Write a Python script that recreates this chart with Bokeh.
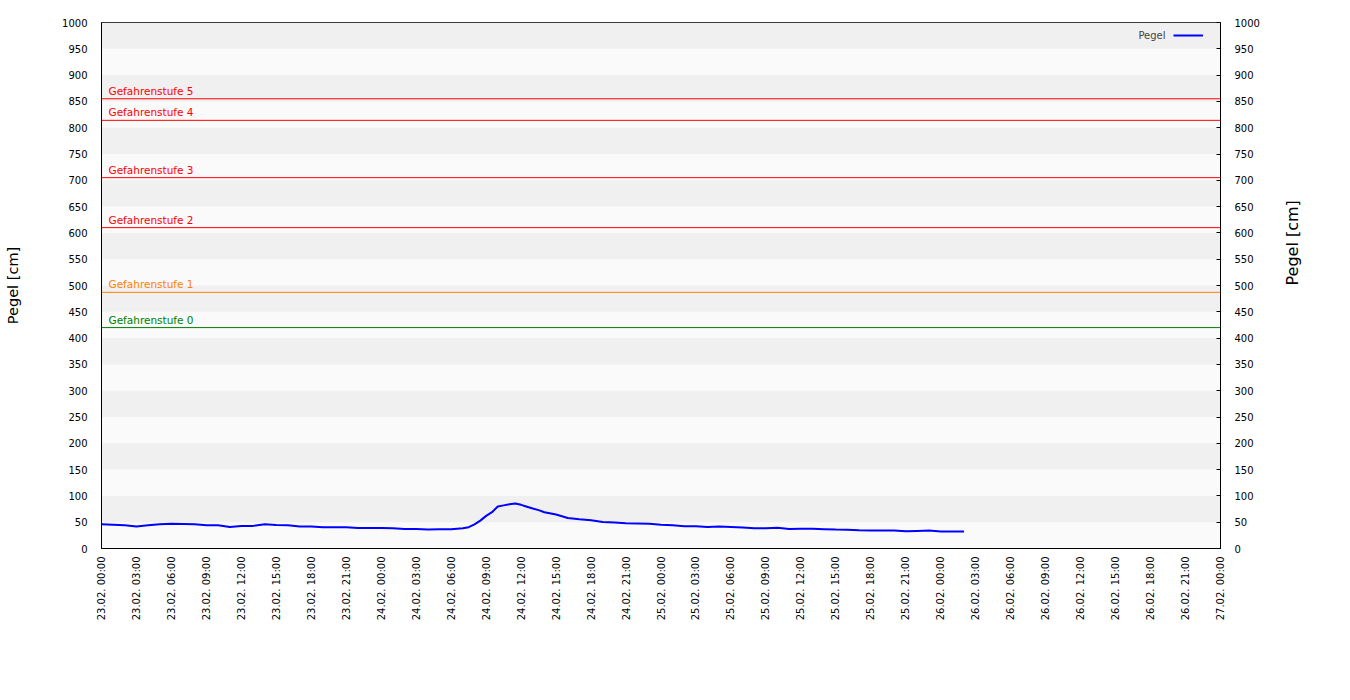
import math
from datetime import datetime, timedelta
from bokeh.plotting import figure
from bokeh.models import (LinearAxis, Range1d, FixedTicker, DatetimeTickFormatter,
                          Span, Label, BoxAnnotation, Legend, LegendItem)
from bokeh.embed import file_html
from bokeh.resources import INLINE

# ---- data ----
start = datetime(2026, 2, 23, 0, 0)
end = datetime(2026, 2, 27, 0, 0)

hours = [0, 1, 2, 3, 4, 5, 6, 7, 8, 9, 10, 11, 12, 13, 14, 15, 16, 17, 18, 19,
         20, 21, 22, 23, 24, 25, 26, 27, 28, 29, 30, 31, 31.5, 32, 32.5, 33, 33.5,
         34, 34.5, 35, 35.5, 36, 36.5, 37, 37.5, 38, 39, 40, 41, 42, 43, 44, 45,
         46, 47, 48, 49, 50, 51, 52, 53, 54, 55, 56, 57, 58, 59, 60, 61, 62, 63,
         64, 65, 66, 67, 68, 69, 70, 71, 72, 73, 74]
pegel = [46, 45, 44, 42, 44, 46, 47, 46.5, 46, 44, 44, 41, 43, 43, 46, 44.5,
         44, 42, 42, 40.5, 40.5, 40.5, 39, 39, 39, 38.5, 37, 37, 36, 36.5, 36.5,
         38.5, 40.6, 46, 53, 62, 69, 80, 82, 84, 85.6, 83, 79.5, 76, 73, 69, 64.6,
         58, 55.5, 53.5, 50.5, 49.5, 48, 47.5, 46.9, 45, 44.4, 42.5, 42.5, 41,
         41.8, 41, 40, 38.6, 38.6, 39.3, 37, 37.4, 37.4, 36.7, 36, 35.5, 34.8,
         34.2, 34.2, 34.2, 33, 33.5, 34, 32.3, 32.3, 32.3]

levels = [420, 487, 610, 705, 814, 855]
level_names = ["Gefahrenstufe 0", "Gefahrenstufe 1", "Gefahrenstufe 2",
               "Gefahrenstufe 3", "Gefahrenstufe 4", "Gefahrenstufe 5"]
level_colors = ["#008000", "#ff8000", "#ff0000", "#ff0000", "#ff0000", "#ff0000"]

y_ticks = list(range(0, 1001, 50))
y_min, y_max = 0, 1000
tick_step_hours = 3

times = [start + timedelta(hours=h) for h in hours]

# ---- figure ----
W, H = 1340, 690
FL, FR, FT, FB = 101, 1220, 22, 548   # frame edges in canvas pixels
p = figure(width=W, height=H, x_axis_type="datetime", output_backend="svg",
           toolbar_location=None, x_range=Range1d(start, end),
           y_range=Range1d(y_min, y_max),
           min_border_left=FL, min_border_right=W - FR, min_border_top=FT,
           min_border_bottom=H - FB)
p.background_fill_color = "#fafafa"
p.border_fill_color = "white"
p.outline_line_color = "black"
p.outline_line_width = 1
p.xgrid.visible = False
p.ygrid.visible = False

# alternating bands
for lo, hi in zip(y_ticks[:-1], y_ticks[1:]):
    if (lo // 50) % 2 == 1:
        p.add_layout(BoxAnnotation(bottom=lo, top=hi, fill_color="#f0f0f0",
                                   fill_alpha=1, line_alpha=0, level="underlay"))

# thresholds
for lv, name, col in zip(levels, level_names, level_colors):
    p.add_layout(Span(location=lv, dimension="width", line_color=col, line_width=1))
    p.add_layout(Label(x=start, y=lv, x_offset=7, y_offset=2, text=name,
                       text_color=col, text_font="DejaVu Sans",
                       text_font_size="10.5px", text_baseline="bottom"))

line = p.line(times, pegel, line_color="#0000ff", line_width=2)

# axes
tick_ms = []
t = start
while t <= end:
    tick_ms.append((t - datetime(1970, 1, 1)).total_seconds() * 1000)
    t += timedelta(hours=tick_step_hours)

fmt = "%d.%m. %H:%M"
xa = p.xaxis[0]
xa.ticker = FixedTicker(ticks=tick_ms)
xa.formatter = DatetimeTickFormatter(milliseconds=fmt, seconds=fmt, minsec=fmt,
                                     minutes=fmt, hourmin=fmt, hours=fmt, days=fmt,
                                     months=fmt, years=fmt)
xa.major_label_orientation = math.pi / 2
xa.major_label_standoff = 8
xa.major_tick_in = 0
xa.major_tick_out = 0
xa.minor_tick_in = 0
xa.minor_tick_out = 0
xa.major_label_text_font = "DejaVu Sans"
xa.major_label_text_font_size = "10px"
xa.major_label_text_color = "black"
xa.axis_line_color = "black"

ya = p.yaxis[0]
ya.ticker = FixedTicker(ticks=y_ticks)
ya.major_tick_in = 0
ya.major_tick_out = 0
ya.minor_tick_in = 0
ya.minor_tick_out = 0
ya.major_label_standoff = 14
ya.major_label_text_font = "DejaVu Sans"
ya.major_label_text_font_size = "10px"
ya.major_label_text_color = "black"
ya.axis_label = "Pegel [cm]"
ya.axis_label_text_font = "DejaVu Sans"
ya.axis_label_text_font_size = "14.5px"
ya.axis_label_text_font_style = "normal"
ya.axis_label_text_color = "black"
ya.axis_label_standoff = 38

# right tick axis
ra = LinearAxis(ticker=FixedTicker(ticks=y_ticks))
ra.major_tick_in = 4
ra.major_tick_out = 0
ra.minor_tick_in = 0
ra.minor_tick_out = 0
ra.major_label_standoff = 14
ra.major_label_text_font = "DejaVu Sans"
ra.major_label_text_font_size = "10px"
ra.major_label_text_color = "black"
p.add_layout(ra, "right")

# right title axis: label only, bounds shifted so the rotated title is centred
ta = LinearAxis(ticker=FixedTicker(ticks=[]), bounds=(y_min, 829))
ta.axis_line_color = None
ta.major_tick_in = 0
ta.major_tick_out = 0
ta.minor_tick_in = 0
ta.minor_tick_out = 0
ta.major_label_standoff = 0
ta.axis_label = "Pegel [cm]"
ta.axis_label_text_font = "DejaVu Sans"
ta.axis_label_text_font_size = "16px"
ta.axis_label_text_font_style = "normal"
ta.axis_label_text_color = "black"
ta.axis_label_standoff = 30
ta.axis_label_orientation = math.pi / 2
p.add_layout(ta, "right")

# legend (label drawn left of the sample line)
leg = Legend(items=[LegendItem(label=" ", renderers=[line])], location="top_right",
             background_fill_alpha=0, border_line_alpha=0, glyph_width=30,
             label_width=14, label_standoff=0, padding=0, margin=3,
             label_text_font_size="1px")
p.add_layout(leg)
p.add_layout(Label(x=end, y=y_max, x_offset=-55, y_offset=-13, text="Pegel",
                   text_align="right", text_font="DejaVu Sans", text_font_size="10px",
                   text_baseline="middle"))

open("out.html", "w").write(file_html(p, INLINE))
